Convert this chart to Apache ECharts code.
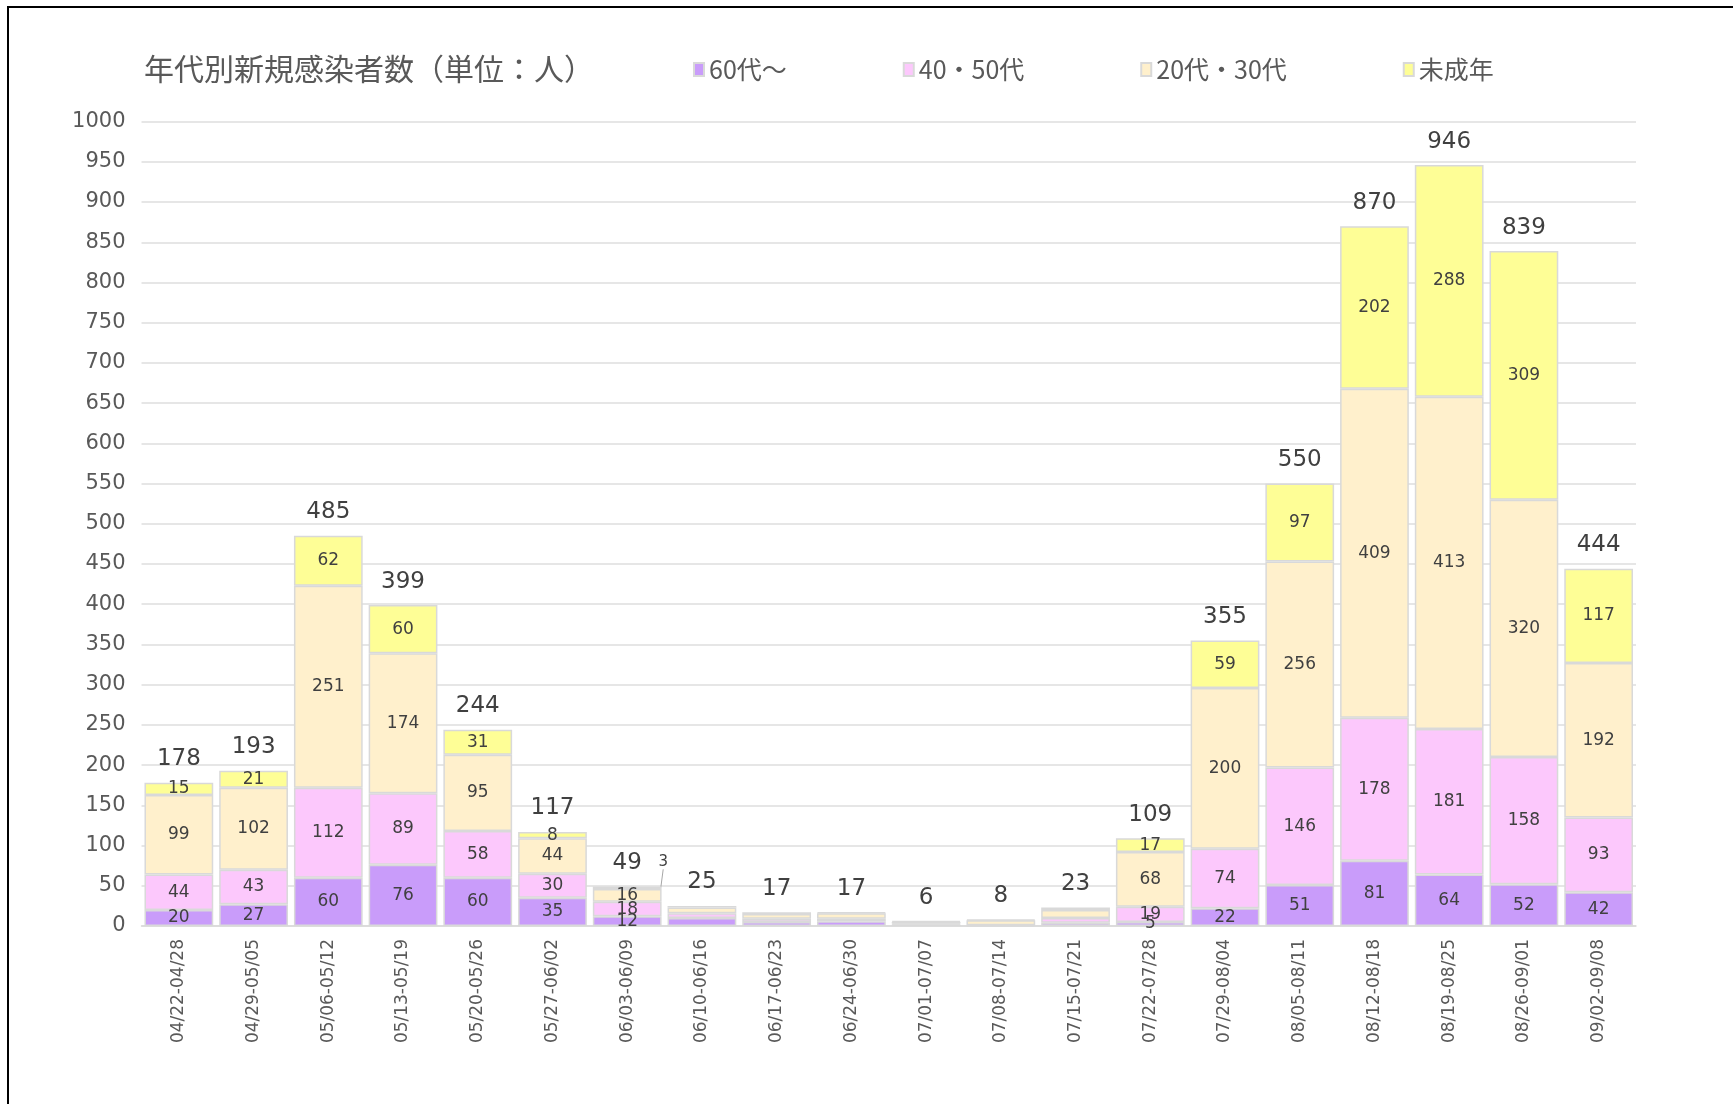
<!DOCTYPE html>
<html>
<head>
<meta charset="utf-8">
<script src="https://cdn.jsdelivr.net/npm/echarts@6/dist/echarts.min.js"></script>
<style>
  html, body { margin: 0; padding: 0; background: #fff; overflow: hidden; }
  #chartBar { width: 1733px; height: 1104px; }
  /* 元画像の黒い枠（上と左だけ見えている） */
  .frame {
    position: absolute; left: 7px; top: 6px; width: 1900px; height: 1300px;
    border-left: 2px solid #000; border-top: 2px solid #000; pointer-events: none;
  }
</style>
</head>
<body>
<div id="chartBar"></div>
<div class="frame"></div>
<script>
// 週ごとのカテゴリ
var weeks = [
  "04/22-04/28", "04/29-05/05", "05/06-05/12", "05/13-05/19", "05/20-05/26",
  "05/27-06/02", "06/03-06/09", "06/10-06/16", "06/17-06/23", "06/24-06/30",
  "07/01-07/07", "07/08-07/14", "07/15-07/21", "07/22-07/28", "07/29-08/04",
  "08/05-08/11", "08/12-08/18", "08/19-08/25", "08/26-09/01", "09/02-09/08"
];
// 年代別の人数
var age60 = [20, 27, 60, 76, 60, 35, 12, 10, 5, 6, 2, 0, 4, 5, 22, 51, 81, 64, 52, 42];
var age4050 = [44, 43, 112, 89, 58, 30, 18, 6, 4, 3, 1, 1, 6, 19, 74, 146, 178, 181, 158, 93];
var age2030 = [99, 102, 251, 174, 95, 44, 16, 7, 6, 7, 2, 6, 10, 68, 200, 256, 409, 413, 320, 192];
var minor = [15, 21, 62, 60, 31, 8, 3, 2, 2, 1, 1, 1, 3, 17, 59, 97, 202, 288, 309, 117];

var totals = weeks.map(function (w, i) {
  return age60[i] + age4050[i] + age2030[i] + minor[i];
});

var numFont = "DejaVu Sans";
var jpFont = "Noto Sans CJK JP";

function seg(name, data, color) {
  return {
    name: name,
    type: "bar",
    stack: "total",
    barCategoryGap: "8%",
    data: data,
    itemStyle: { color: color, borderColor: "#d9d9d9", borderWidth: 1.5 },
    label: {
      show: true,
      position: "inside",
      color: "#404040",
      fontSize: 17,
      fontFamily: numFont,
      // 小さい週はラベルなし
      formatter: function (p) {
        return totals[p.dataIndex] < 40 ? "" : p.value;
      },
    },
    emphasis: { disabled: true },
  };
}

var chartBar = echarts.init(document.getElementById("chartBar"));

var minorSeries = seg("未成年", minor.map(function (v, i) {
  // 06/03-06/09 の「3」だけ外に出して引き出し線をつける
  return i === 6 ? { value: v, label: { fontSize: 15 }, labelLine: { show: true } } : v;
}), "#fefe96");
minorSeries.labelLine = { show: false, lineStyle: { color: "#a6a6a6", width: 1 } };
minorSeries.labelLayout = function (params) {
  if (params.dataIndex === 6) return { dx: 36, dy: -26 };
  return {};
};

var option = {
  animation: false,
  title: {
    text: "年代別新規感染者数（単位：人）",
    left: 139,
    top: 49,
    textStyle: { fontSize: 30, fontWeight: "normal", color: "#595959", fontFamily: jpFont },
  },
  legend: {
    data: ["60代～", "40・50代", "20代・30代", "未成年"],
    left: 688,
    top: 52,
    icon: "rect",
    itemWidth: 10,
    itemHeight: 13,
    itemGap: 116,
    textStyle: { fontSize: 25, color: "#595959", fontFamily: jpFont },
  },
  grid: { left: 141.5, right: 97, top: 121.6, bottom: 178 },
  xAxis: {
    type: "category",
    data: weeks,
    axisTick: { show: false },
    axisLine: { lineStyle: { color: "#d9d9d9", width: 1.5 } },
    axisLabel: {
      interval: 0,
      rotate: 90,
      margin: 13,
      fontSize: 17,
      color: "#595959",
      fontFamily: numFont,
    },
  },
  yAxis: {
    type: "value",
    min: 0,
    max: 1000,
    interval: 50,
    axisLine: { show: false },
    axisTick: { show: false },
    axisLabel: {
      margin: 16,
      fontSize: 21,
      color: "#595959",
      fontFamily: numFont,
      formatter: function (v) { return String(v); },
    },
    splitLine: { lineStyle: { color: "#dedede", width: 1.5 } },
  },
  series: [
    seg("60代～", age60, "#c99cfa"),
    seg("40・50代", age4050, "#fcc8fc"),
    seg("20代・30代", age2030, "#fff0cc"),
    minorSeries,
    {
      // 合計ラベル用（高さ0の透明な棒）
      name: "合計",
      type: "bar",
      stack: "total",
      data: totals.map(function () { return 0; }),
      itemStyle: { color: "transparent", borderWidth: 0 },
      label: {
        show: true,
        position: "top",
        distance: 12,
        color: "#404040",
        fontSize: 23,
        fontFamily: numFont,
        formatter: function (p) { return totals[p.dataIndex]; },
      },
      silent: true,
    },
  ],
};

chartBar.setOption(option);
</script>
</body>
</html>
